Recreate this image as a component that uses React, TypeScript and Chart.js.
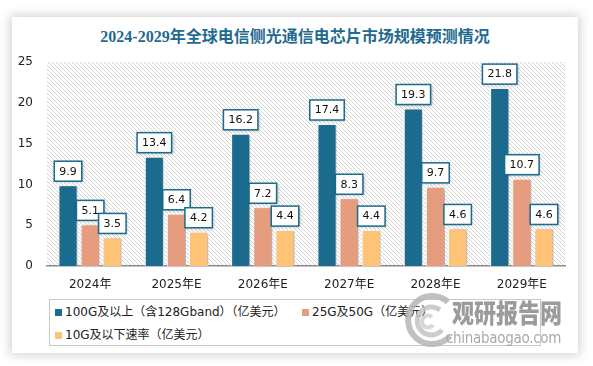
import React, { useEffect, useRef } from "react";
import { Chart, registerables } from "chart.js";

Chart.register(...registerables);

const categories = ["2024年", "2025年E", "2026年E", "2027年E", "2028年E", "2029年E"];
const seriesNames = [
  "100G及以上（含128Gband）（亿美元）",
  "25G及50G（亿美元）",
  "10G及以下速率（亿美元）",
];
const s100G = [9.9, 13.4, 16.2, 17.4, 19.3, 21.8];
const s25G = [5.1, 6.4, 7.2, 8.3, 9.7, 10.7];
const s10G = [3.5, 4.2, 4.4, 4.4, 4.6, 4.6];
const colors = ["#1b6b8e", "#e69c7e", "#fec377"];
const yMin = 0;
const yMax = 25;
const yStep = 5;

const FONT = '"DejaVu Sans", "Noto Sans CJK SC", sans-serif';

const hatchPlugin = {
  id: "hatch",
  beforeDraw(chart: any) {
    const { ctx, chartArea } = chart;
    const tile = document.createElement("canvas");
    tile.width = 4;
    tile.height = 4;
    const t = tile.getContext("2d")!;
    t.fillStyle = "#ffffff";
    t.fillRect(0, 0, 4, 4);
    t.fillStyle = "#d2d2d2";
    for (let i = 0; i < 4; i++) t.fillRect(i, i, 1, 1);
    const pat = ctx.createPattern(tile, "repeat");
    ctx.save();
    ctx.fillStyle = pat;
    ctx.fillRect(chartArea.left, chartArea.top, chartArea.right - chartArea.left, chartArea.bottom - chartArea.top);
    ctx.restore();
  },
};

const shadowPlugin = {
  id: "barShadow",
  beforeDatasetsDraw(chart: any) {
    const ctx = chart.ctx;
    ctx.save();
    ctx.shadowColor = "rgba(0,0,0,0.35)";
    ctx.shadowBlur = 3;
    ctx.shadowOffsetX = 1.5;
    ctx.shadowOffsetY = 1;
  },
  afterDatasetsDraw(chart: any) {
    chart.ctx.restore();
  },
};

const labelPlugin = {
  id: "boxLabels",
  afterDatasetsDraw(chart: any) {
    const ctx = chart.ctx;
    ctx.save();
    ctx.font = `11px ${FONT}`;
    chart.data.datasets.forEach((ds: any, di: number) => {
      const meta = chart.getDatasetMeta(di);
      meta.data.forEach((bar: any, i: number) => {
        const txt = String(ds.data[i]);
        const w = ctx.measureText(txt).width + 10;
        const h = 20;
        const x = bar.x - w / 2;
        const y = bar.y - 4 - h;
        ctx.save();
        ctx.shadowColor = "rgba(0,0,0,0.3)";
        ctx.shadowBlur = 3;
        ctx.shadowOffsetX = 1;
        ctx.shadowOffsetY = 1;
        ctx.fillStyle = "#ffffff";
        ctx.fillRect(x, y, w, h);
        ctx.restore();
        ctx.strokeStyle = "#1b6b8e";
        ctx.lineWidth = 1.5;
        ctx.strokeRect(x, y, w, h);
        ctx.fillStyle = "#111111";
        ctx.textAlign = "center";
        ctx.textBaseline = "middle";
        ctx.fillText(txt, bar.x, y + h / 2 + 0.5);
      });
    });
    ctx.restore();
  },
};

function BarChart() {
  const ref = useRef<HTMLCanvasElement>(null);
  useEffect(() => {
    if (!ref.current) return;
    const seriesData = [s100G, s25G, s10G];
    const chart = new Chart(ref.current, {
      type: "bar",
      data: {
        labels: categories,
        datasets: seriesData.map((d, i) => ({
          label: seriesNames[i],
          data: d,
          backgroundColor: colors[i],
          borderColor: "#ffffff",
          borderWidth: 1,
          categoryPercentage: 0.77,
          barPercentage: 0.86,
        })),
      },
      options: {
        responsive: false,
        animation: false,
        layout: { padding: { top: 12, right: 13, left: 0, bottom: 0 } },
        plugins: {
          legend: { display: false },
          title: { display: false },
          tooltip: { enabled: false },
        },
        scales: {
          x: {
            grid: { display: false, drawTicks: false },
            border: { display: true, color: "#8c8c8c", width: 1.5 },
            ticks: { padding: 12, color: "#222", font: { size: 12, family: FONT } },
            afterFit: (s: any) => {
              s.height = 29;
              s.paddingLeft = 0;
              s.paddingRight = 0;
            },
          },
          y: {
            min: yMin,
            max: yMax,
            grid: { display: false, drawTicks: false },
            border: { display: false },
            ticks: { stepSize: yStep, padding: 14, color: "#222", font: { size: 12, family: FONT } },
            afterFit: (s: any) => {
              s.width = 35;
              s.paddingTop = 0;
              s.paddingBottom = 0;
            },
          },
        },
      },
      plugins: [hatchPlugin, shadowPlugin, labelPlugin],
    });
    return () => chart.destroy();
  }, []);
  return <canvas ref={ref} width={566} height={245} style={{ display: "block" }} />;
}

export default function App() {
  const legendItem = (i: number, left: number, top: number) => (
    <div
      key={i}
      style={{
        position: "absolute",
        left,
        top,
        display: "flex",
        alignItems: "center",
        whiteSpace: "nowrap",
        fontFamily: FONT,
        fontSize: 12,
        color: "#222",
        lineHeight: "16px",
      }}
    >
      <span style={{ display: "inline-block", width: 7, height: 7, background: colors[i], marginRight: 3 }} />
      <span>{seriesNames[i]}</span>
    </div>
  );
  return (
    <div style={{ position: "absolute", left: 0, top: 0, width: 593, height: 366, background: "#ffffff", overflow: "hidden" }}>
      <div
        style={{
          position: "absolute",
          left: 12,
          top: 17,
          width: 566,
          height: 336,
          background: "#ffffff",
          boxShadow: "0 0 10px 2px rgba(0,0,0,0.18)",
        }}
      />
      <div
        style={{
          position: "absolute",
          left: 12,
          top: 26,
          width: 566,
          textAlign: "center",
          fontFamily: '"Liberation Serif", "Noto Sans CJK SC", serif',
          fontWeight: "bold",
          fontSize: 16,
          lineHeight: "22px",
          color: "#1f6a90",
        }}
      >
        2024-2029年全球电信侧光通信电芯片市场规模预测情况
      </div>
      <div style={{ position: "absolute", left: 12, top: 50, width: 566, height: 245 }}>
        <BarChart />
      </div>
      <div
        style={{
          position: "absolute",
          left: 49,
          top: 299,
          width: 492,
          height: 47,
          border: "1px solid #c9c9c9",
          boxSizing: "border-box",
        }}
      />
      {legendItem(0, 55, 304)}
      {legendItem(1, 302, 304)}
      {legendItem(2, 55, 327)}
      <div style={{ position: "absolute", left: 0, top: 0, width: 593, height: 366, opacity: 0.85, pointerEvents: "none" }}>
        <svg style={{ position: "absolute", left: 400, top: 292 }} width={56} height={58} viewBox="0 0 56 58">
          <path d="M48 10 A24 24 0 1 0 50 44" fill="none" stroke="#b5b5b5" strokeWidth={6} />
          <path d="M40 18 A14 14 0 1 0 42 38" fill="none" stroke="#c4c4c4" strokeWidth={5} />
          <path d="M32 25 A6 6 0 1 0 33 33" fill="none" stroke="#d0d0d0" strokeWidth={4} />
        </svg>
        <div
          style={{
            position: "absolute",
            left: 452,
            top: 294,
            width: 114,
            fontFamily: '"Noto Sans CJK SC", sans-serif',
            fontWeight: 900,
            fontSize: 22,
            lineHeight: "28px",
            color: "#8a8a8a",
            whiteSpace: "nowrap",
            transform: "scaleY(1.2)",
            transformOrigin: "left top",
          }}
        >
          观研报告网
        </div>
        <div
          style={{
            position: "absolute",
            left: 446,
            top: 328,
            fontFamily: '"DejaVu Sans Condensed", "DejaVu Sans", sans-serif',
            fontSize: 15,
            lineHeight: "20px",
            color: "#9a9a9a",
            whiteSpace: "nowrap",
            letterSpacing: -0.3,
          }}
        >
          chinabaogao.com
        </div>
      </div>
    </div>
  );
}
